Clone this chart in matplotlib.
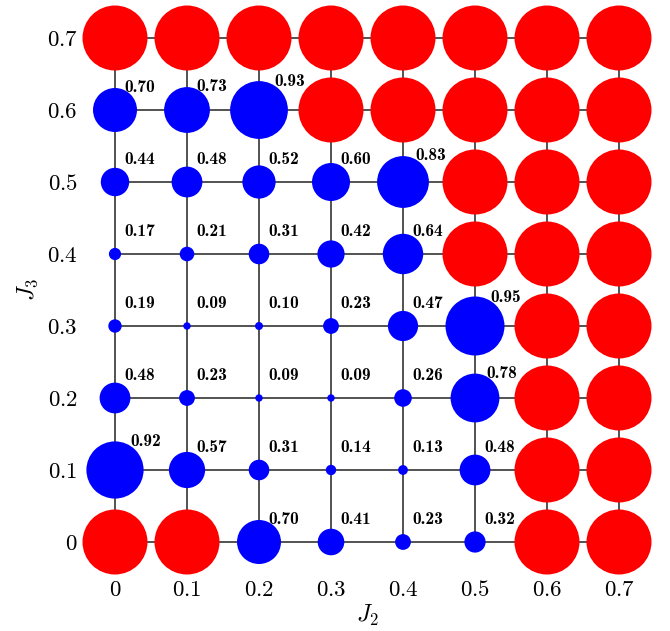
import matplotlib.pyplot as plt
import numpy as np

plt.rcParams['mathtext.fontset'] = 'cm'
plt.rcParams['font.family'] = 'serif'

j2 = [0, 0.1, 0.2, 0.3, 0.4, 0.5, 0.6, 0.7]
j3 = [0, 0.1, 0.2, 0.3, 0.4, 0.5, 0.6, 0.7]

# rows are J3 = 0 ... 0.7, columns are J2 = 0 ... 0.7; None marks the red phase
values = [
    [None, None, 0.70, 0.41, 0.23, 0.32, None, None],
    [0.92, 0.57, 0.31, 0.14, 0.13, 0.48, None, None],
    [0.48, 0.23, 0.09, 0.09, 0.26, 0.78, None, None],
    [0.19, 0.09, 0.10, 0.23, 0.47, 0.95, None, None],
    [0.17, 0.21, 0.31, 0.42, 0.64, None, None, None],
    [0.44, 0.48, 0.52, 0.60, 0.83, None, None, None],
    [0.70, 0.73, 0.93, None, None, None, None, None],
    [None, None, None, None, None, None, None, None],
]

DPI = 100
R_RED = 32.5  # radius in px of the red markers

def radius_px(v):
    return 1.0 + 30.0 * v

def size_pt2(r):
    return (2 * r * 72.0 / DPI) ** 2

fig = plt.figure(figsize=(6.70, 6.31), dpi=DPI)
ax = fig.add_axes([79 / 670, 53 / 631, 576 / 670, 576 / 631])

# lattice lines
for y in j3:
    ax.plot([j2[0], j2[-1]], [y, y], color='#444444', lw=1.3, zorder=1)
for x in j2:
    ax.plot([x, x], [j3[0], j3[-1]], color='#444444', lw=1.3, zorder=1)

rx, ry, bx, by, bs, bv = [], [], [], [], [], []
for i, y in enumerate(j3):
    for k, x in enumerate(j2):
        v = values[i][k]
        if v is None:
            rx.append(x)
            ry.append(y)
        else:
            bx.append(x)
            by.append(y)
            bv.append(v)
            bs.append(size_pt2(radius_px(v)))

ax.scatter(rx, ry, s=size_pt2(R_RED), color='#ff0000', edgecolors='none',
           zorder=2, clip_on=False)
ax.scatter(bx, by, s=bs, color='#0000ff', edgecolors='none',
           zorder=3, clip_on=False)

# value labels sit up and to the right, pushed out a bit for big markers
for x, y, v in zip(bx, by, bv):
    r = radius_px(v)
    dx = 9 + 0.9 * max(0.0, r - 22)
    dy = 23 + min(5.0, 0.8 * max(0.0, r - 22))
    ax.annotate('%.2f' % v, (x, y), xytext=(dx * 72 / DPI, dy * 72 / DPI),
                textcoords='offset points', ha='left', va='center',
                fontsize=12.5, family='cmb10', zorder=4)

ax.set_xlim(-0.05, 0.75)
ax.set_ylim(-0.05, 0.75)
ax.set_xticks(j2)
ax.set_yticks(j3)
ax.set_xticklabels(['$%g$' % t for t in j2], fontsize=16.5)
ax.set_yticklabels(['$%g$' % t for t in j3], fontsize=16.5)
ax.tick_params(length=0, pad=1)
for s in ax.spines.values():
    s.set_visible(False)

ax.set_xlabel('$J_2$', fontsize=17, labelpad=1)
ax.set_ylabel('$J_3$', fontsize=17, labelpad=5)

fig.savefig('out.png', dpi=DPI)
